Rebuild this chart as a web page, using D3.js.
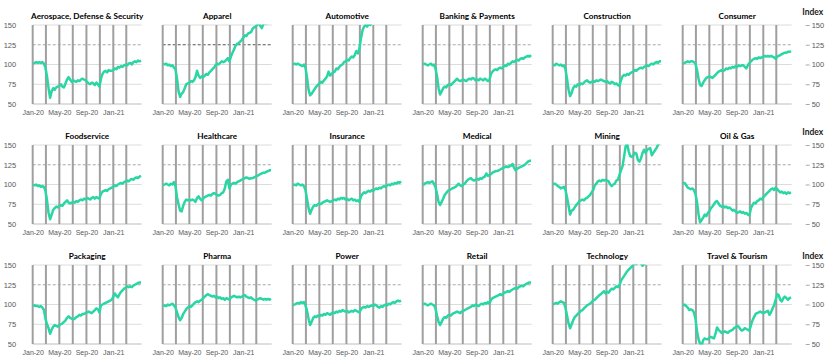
<!DOCTYPE html>
<html>
<head>
<meta charset="utf-8">
<script src="https://cdn.jsdelivr.net/npm/d3@7"></script>
<style>
  body { margin: 0; background: #fff; }
  svg { display: block; font-family: Lato, "Open Sans", sans-serif; }
  .title { font-weight: bold; font-size: 8.2px; fill: #000; }
  .axis text { fill: #595959; font-size: 7px; }
  .yaxis text { font-size: 7.5px; }
  .index { font-weight: bold; font-size: 8.5px; fill: #222; }
</style>
</head>
<body>
<svg id="chart" width="829" height="363"></svg>
<script>
const sectors = ["Aerospace, Defense & Security", "Apparel", "Automotive", "Banking & Payments", "Construction", "Consumer",
  "Foodservice", "Healthcare", "Insurance", "Medical", "Mining", "Oil & Gas",
  "Packaging", "Pharma", "Power", "Retail", "Technology", "Travel & Tourism"];

// weekly index values, first week of Jan 2020 = ~100
const aerospace = [101,102,103,102,103,102,103,101,96,85, 70,58,66,70,68,71,72,73,75,72, 71,76,81,84,81,78,80,79,78,80,
  79,81,82,81,80,78,76,75,77,76, 74,77,75,72,82,88,91,92,90,93, 92,92,93,95,94,97,96,98,97,99, 100,99,101,102,100,103,104,103,105,104, 105];
const apparel = [101,100,101,99,100,98,99,96,94,82, 66,59,63,65,70,75,76,77,79,78, 80,84,92,86,83,85,84,86,88,87,
  90,92,94,96,99,101,100,102,104,103, 104,106,108,104,110,115,119,124,126,127, 129,131,134,137,136,139,140,141,145,147, 148,150,152,149,146,151,153,152,155,156, 157];
const automotive = [100,101,100,101,100,99,98,100,96,84, 68,61,63,66,69,72,74,76,78,77, 80,82,85,91,86,88,90,91,95,94,
  97,99,100,103,104,106,105,108,110,109, 112,117,114,120,133,143,148,150,148,151, 150,153,156,158,160,162,161,163,165,164, 166,168,167,169,170,168,171,172,170,173, 174];
const banking = [100,101,100,99,100,101,99,100,95,85, 70,62,66,70,72,71,74,75,74,76, 78,80,82,80,79,80,81,80,79,81,
  82,81,83,82,80,81,80,82,81,80, 82,81,79,80,88,91,93,94,93,95, 96,95,97,99,98,101,100,102,104,103, 105,106,105,107,108,107,109,110,111,110, 112];
const construction = [100,99,101,100,99,100,98,99,94,82, 68,60,64,70,73,72,75,74,76,75, 77,79,80,78,77,78,79,78,80,79,
  80,81,80,79,78,79,77,76,78,77, 75,76,74,73,80,85,87,86,88,87, 89,90,91,93,92,94,95,96,95,97, 98,99,98,100,101,100,102,103,102,104, 104];
const consumer = [101,102,103,104,103,104,104,103,101,93, 82,74,73,77,80,83,84,85,84,83, 85,87,89,91,92,93,92,93,95,94,
  96,95,97,96,98,97,99,98,99,99, 97,95,99,102,104,106,107,108,107,109, 108,109,110,111,110,111,110,111,110,109, 107,110,111,112,113,114,115,115,116,116, 117];
const foodservice = [100,99,100,98,99,97,98,97,92,80, 64,56,62,68,70,72,71,73,74,73, 76,78,80,77,76,77,78,77,79,78,
  80,81,80,82,81,83,82,81,83,84, 82,84,83,82,88,91,92,93,92,94, 95,96,97,99,98,100,101,102,101,103, 104,105,104,106,107,106,108,109,108,110, 111];
const healthcare = [99,100,101,100,99,101,100,103,98,84, 75,67,66,73,78,81,80,81,80,81, 80,78,83,85,82,80,82,84,85,86,
  87,86,88,89,88,87,86,87,89,90, 95,104,106,95,100,101,102,101,103,104, 105,106,107,108,109,108,107,108,108,109, 110,111,112,113,114,115,115,116,117,118, 118];
const insurance = [99,100,99,101,100,99,100,98,93,82, 70,63,68,72,74,73,75,76,75,77, 78,79,80,79,78,79,80,81,80,82,
  81,83,82,83,81,82,80,81,82,80, 81,79,80,78,85,88,90,89,91,92, 91,93,92,94,95,94,96,95,97,98, 97,99,100,99,101,100,102,101,103,102, 104];
const medical = [99,101,102,103,102,103,104,101,97,88, 78,74,78,82,87,89,92,93,94,95, 96,97,99,101,99,98,100,101,104,106,
  107,108,106,105,106,107,106,108,107,109, 110,114,111,112,113,115,116,117,117,118, 119,120,121,122,123,122,123,124,126,121, 118,120,121,122,123,124,125,127,129,130, 130];
const mining = [100,101,100,98,97,95,96,97,93,84, 73,62,67,68,71,74,76,79,80,81, 80,82,83,85,87,90,93,99,101,104,
  105,104,106,105,106,105,104,100,98,100, 101,105,106,112,118,123,135,148,152,142, 136,135,137,140,139,131,129,133,140,144, 140,144,145,146,137,140,143,146,150,153, 154];
const oilGas = [101,102,99,96,95,94,95,93,88,78, 62,52,55,58,62,60,64,66,70,72, 75,78,79,76,73,72,73,71,72,70,
  71,69,67,68,66,64,65,66,64,65, 63,64,62,61,70,74,77,76,79,80, 82,81,84,86,88,90,92,94,95,93, 96,94,92,90,91,89,90,88,90,89, 90];
const packaging = [98,99,98,98,97,98,96,93,82,75, 70,63,68,72,74,73,72,74,75,76, 78,80,83,85,83,82,81,82,84,85,
  87,86,88,88,89,90,91,90,89,91, 93,95,94,90,99,100,101,102,103,104, 105,106,110,114,111,109,113,116,118,120, 121,123,122,123,122,124,125,126,127,128, 128];
const pharma = [98,99,98,100,99,100,101,99,96,90, 84,80,83,88,91,94,96,98,97,99, 101,103,104,103,105,106,108,110,112,113,
  112,111,110,111,109,110,108,109,107,108, 106,108,107,106,109,110,111,110,109,110, 109,110,111,112,110,109,108,109,107,106, 105,106,107,108,107,106,107,106,107,106, 107];
const power = [99,100,101,102,101,103,102,103,99,92, 82,74,78,83,85,84,86,85,87,86, 88,87,89,88,87,89,90,89,91,90,
  92,91,93,92,91,92,90,91,92,91, 93,92,91,90,94,96,97,96,98,97, 98,99,98,100,99,97,96,98,97,99, 100,99,101,100,102,103,102,104,105,104, 105];
const retail = [100,101,100,99,100,101,100,99,95,86, 78,74,78,82,84,83,86,87,86,88, 89,90,91,90,89,91,92,93,94,95,
  96,97,99,98,100,99,98,100,101,100, 102,101,103,101,106,108,109,110,111,112, 113,112,114,115,116,117,116,118,119,120, 121,120,122,123,124,123,125,126,127,128, 128];
const technology = [100,101,102,101,103,104,103,102,96,86, 76,70,75,80,84,86,88,90,92,93, 95,97,99,100,101,103,105,106,108,110,
  112,113,115,117,114,116,115,118,120,119, 121,123,122,124,130,133,136,139,142,144, 146,148,150,152,151,153,155,152,149,151, 154,156,157,158,156,158,159,160,158,160, 161];
const travel = [99,100,98,96,93,94,93,90,82,66, 56,50,48,55,57,56,56,58,59,58, 57,63,71,68,66,64,65,66,65,64,
  66,67,68,70,71,73,72,69,67,68, 70,69,68,67,74,80,84,88,89,90, 91,90,89,90,91,92,87,90,95,99, 106,113,112,106,104,108,110,108,106,108, 109];

const seriesList = [aerospace, apparel, automotive, banking, construction, consumer,
  foodservice, healthcare, insurance, medical, mining, oilGas,
  packaging, pharma, power, retail, technology, travel];

const xTickDates = [new Date(2020, 0, 1), new Date(2020, 4, 1), new Date(2020, 8, 1), new Date(2021, 0, 1)];
const yTicks = [50, 75, 100, 125, 150];

const firstWeek = new Date(2020, 0, 3);
const weeks = aerospace.map((d, i) => d3.timeDay.offset(firstWeek, 7 * i));
const gridDates = d3.timeMonth.every(2).range(new Date(2020, 0, 1), new Date(2021, 3, 1));

const svg = d3.select("#chart");
const panelW = 109, panelH = 79, colStep = 130, rowStep = 120, left0 = 32.7, top0 = 25;
const lineColor = "#29d6a4";

const x = d3.scaleTime().domain([new Date(2020, 0, 1), new Date(2021, 4, 10)]).range([0, panelW]);
const y = d3.scaleLinear().domain([50, 150]).range([panelH, 0]);
const line = d3.line().x((d, i) => x(weeks[i])).y(d => y(d));

seriesList.forEach((values, i) => {
  const col = i % 6, row = Math.floor(i / 6);
  const g = svg.append("g")
    .attr("transform", `translate(${left0 + col * colStep},${top0 + row * rowStep})`);

  // horizontal grid
  g.selectAll(".hgrid")
    .data([75, 100, 150])
    .enter().append("line")
    .attr("x1", 0).attr("x2", panelW)
    .attr("y1", d => y(d)).attr("y2", d => y(d))
    .attr("stroke", "#dcdcdc").attr("stroke-width", 1);

  g.append("line")
    .attr("x1", 0).attr("x2", panelW)
    .attr("y1", y(125)).attr("y2", y(125))
    .attr("stroke", i === 1 ? "#555" : "#a8a8a8")
    .attr("stroke-width", 1)
    .attr("stroke-dasharray", "3,2");

  g.append("line")
    .attr("x1", 0).attr("x2", panelW)
    .attr("y1", y(50)).attr("y2", y(50))
    .attr("stroke", "#bdbdbd").attr("stroke-width", 1.2);

  // vertical grid, every 2 months
  g.selectAll(".vgrid")
    .data(gridDates)
    .enter().append("line")
    .attr("x1", d => x(d)).attr("x2", d => x(d))
    .attr("y1", 0).attr("y2", panelH)
    .attr("stroke", "#9f9f9f").attr("stroke-width", 2);

  const clipId = "clip" + i;
  g.append("clipPath").attr("id", clipId)
    .append("rect").attr("x", -2).attr("y", -0.5).attr("width", panelW + 4).attr("height", panelH + 1);

  g.append("path")
    .datum(values)
    .attr("clip-path", `url(#${clipId})`)
    .attr("fill", "none")
    .attr("stroke", lineColor)
    .attr("stroke-width", 2.5)
    .attr("stroke-linejoin", "round")
    .attr("d", line);

  const xa = g.append("g").attr("class", "axis")
    .attr("transform", `translate(0,${panelH})`)
    .call(d3.axisBottom(x).tickValues(xTickDates).tickFormat(d3.timeFormat("%b-%y")).tickSize(0).tickPadding(6));
  xa.select(".domain").remove();

  g.append("text").attr("class", "title")
    .attr("x", panelW / 2).attr("y", -6)
    .attr("text-anchor", "middle")
    .text(sectors[i]);

  if (col === 0) {
    const ya = g.append("g").attr("class", "axis yaxis")
      .call(d3.axisLeft(y).tickValues(yTicks).tickSize(0).tickPadding(16.5));
    ya.select(".domain").remove();
  }
  if (col === 5) {
    const ya = g.append("g").attr("class", "axis yaxis")
      .attr("transform", `translate(${panelW + 14},0)`)
      .call(d3.axisRight(y).tickValues(yTicks).tickSize(4).tickPadding(2));
    ya.select(".domain").remove();
    ya.selectAll(".tick line").attr("stroke", "#aaa");
    g.append("text").attr("class", "index")
      .attr("x", panelW + 21).attr("y", row === 2 ? -6.5 : -10)
      .attr("text-anchor", "middle")
      .text("Index");
  }
});
</script>
</body>
</html>
